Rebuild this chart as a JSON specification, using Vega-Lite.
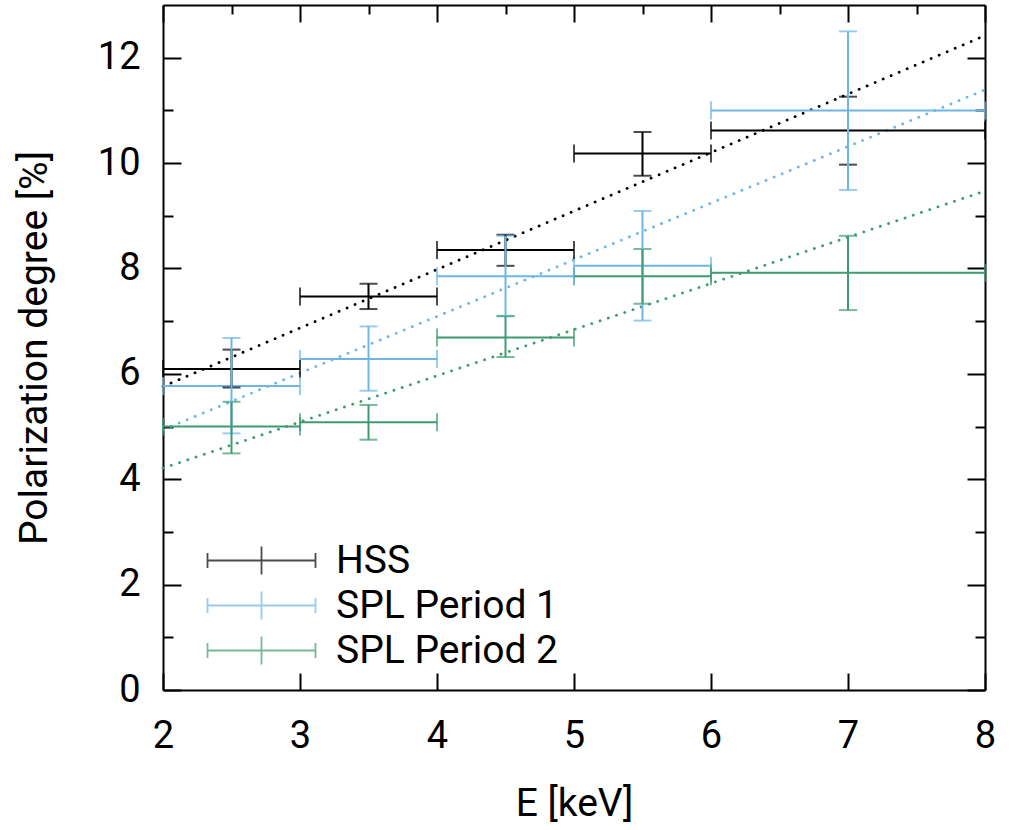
{
  "$schema": "https://vega.github.io/schema/vega-lite/v6.json",
  "width": 822,
  "height": 685,
  "autosize": {"type": "none"},
  "padding": {"left": 163, "top": 5, "right": 25, "bottom": 140},
  "background": "white",
  "config": {
    "view": {"stroke": null},
    "font": "Roboto",
    "axis": {
      "domainColor": "black",
      "domainWidth": 2,
      "tickColor": "black",
      "tickWidth": 2,
      "labelFont": "Roboto",
      "labelFontSize": 38,
      "labelColor": "black",
      "titleFont": "Roboto",
      "titleFontSize": 39,
      "titleFontWeight": "normal",
      "titleColor": "black",
      "grid": false,
      "labelOverlap": false,
      "labelBound": false,
      "labelFlush": false
    },
    "legend": {
      "orient": "none",
      "legendX": 39,
      "legendY": 536,
      "title": null,
      "padding": 0,
      "symbolType": "M-1,0L6.714,0M-1,-0.536L-1,0.536M6.714,-0.536L6.714,0.536M2.857,-1L2.857,1",
      "symbolSize": 784,
      "symbolStrokeWidth": 1.8,
      "labelFont": "Roboto",
      "labelFontSize": 39,
      "labelColor": "black",
      "labelOffset": 95,
      "labelLimit": 500,
      "rowPadding": 5
    }
  },
  "datasets": {
    "pts": [
      {"series": "HSS", "x": 2.5, "xlo": 2, "xhi": 3, "y": 6.09, "ylo": 5.74, "yhi": 6.46},
      {"series": "HSS", "x": 3.5, "xlo": 3, "xhi": 4, "y": 7.47, "ylo": 7.23, "yhi": 7.71},
      {"series": "HSS", "x": 4.5, "xlo": 4, "xhi": 5, "y": 8.35, "ylo": 8.05, "yhi": 8.64},
      {"series": "HSS", "x": 5.5, "xlo": 5, "xhi": 6, "y": 10.18, "ylo": 9.76, "yhi": 10.59},
      {"series": "HSS", "x": 7, "xlo": 6, "xhi": 8, "y": 10.62, "ylo": 9.97, "yhi": 11.26},
      {"series": "SPL Period 1", "x": 2.5, "xlo": 2, "xhi": 3, "y": 5.77, "ylo": 4.87, "yhi": 6.68},
      {"series": "SPL Period 1", "x": 3.5, "xlo": 3, "xhi": 4, "y": 6.28, "ylo": 5.68, "yhi": 6.90},
      {"series": "SPL Period 1", "x": 4.5, "xlo": 4, "xhi": 5, "y": 7.85, "ylo": 7.09, "yhi": 8.62},
      {"series": "SPL Period 1", "x": 5.5, "xlo": 5, "xhi": 6, "y": 8.05, "ylo": 7.01, "yhi": 9.09},
      {"series": "SPL Period 1", "x": 7, "xlo": 6, "xhi": 8, "y": 11.0, "ylo": 9.49, "yhi": 12.5},
      {"series": "SPL Period 2", "x": 2.5, "xlo": 2, "xhi": 3, "y": 5.0, "ylo": 4.49, "yhi": 5.47},
      {"series": "SPL Period 2", "x": 3.5, "xlo": 3, "xhi": 4, "y": 5.08, "ylo": 4.75, "yhi": 5.41},
      {"series": "SPL Period 2", "x": 4.5, "xlo": 4, "xhi": 5, "y": 6.69, "ylo": 6.32, "yhi": 7.10},
      {"series": "SPL Period 2", "x": 5.5, "xlo": 5, "xhi": 6, "y": 7.85, "ylo": 7.33, "yhi": 8.37},
      {"series": "SPL Period 2", "x": 7, "xlo": 6, "xhi": 8, "y": 7.92, "ylo": 7.21, "yhi": 8.62}
    ],
    "fit": [
      {"series": "HSS", "E": 2, "P": 5.76},
      {"series": "HSS", "E": 8, "P": 12.42},
      {"series": "SPL Period 1", "E": 2, "P": 4.94},
      {"series": "SPL Period 1", "E": 8, "P": 11.39},
      {"series": "SPL Period 2", "E": 2, "P": 4.21},
      {"series": "SPL Period 2", "E": 8, "P": 9.47}
    ]
  },
  "layer": [
    {
      "data": {"name": "fit"},
      "mark": {"type": "line", "strokeDash": [0.1, 8.6], "strokeWidth": 2.8, "strokeCap": "round"},
      "encoding": {
        "x": {
          "field": "E", "type": "quantitative",
          "scale": {"domain": [2, 8], "nice": false, "zero": false},
          "axis": {
            "orient": "bottom",
            "title": "E [keV]",
            "values": [2, 2.5, 3, 3.5, 4, 4.5, 5, 5.5, 6, 6.5, 7, 7.5, 8],
            "format": "d",
            "tickSize": {"condition": {"test": "datum.value % 1 === 0", "value": -17}, "value": -9},
            "labelExpr": "datum.value % 1 === 0 ? datum.label : ''",
            "labelPadding": 44,
            "labelDx": 5,
            "titlePadding": 29
          }
        },
        "y": {
          "field": "P", "type": "quantitative",
          "scale": {"domain": [0, 13], "nice": false, "zero": true},
          "axis": {
            "orient": "left",
            "title": "Polarization degree [%]",
            "values": [0, 1, 2, 3, 4, 5, 6, 7, 8, 9, 10, 11, 12],
            "tickSize": {"condition": {"test": "datum.value % 2 === 0", "value": -18}, "value": -10},
            "labelExpr": "datum.value % 2 === 0 ? datum.label : ''",
            "labelPadding": 41,
            "titlePadding": 43
          }
        },
        "color": {
          "field": "series", "type": "nominal",
          "scale": {"domain": ["HSS", "SPL Period 1", "SPL Period 2"], "range": ["#000000", "#6DB6E6", "#3C9B70"]}
        }
      }
    },
    {
      "data": {"name": "pts"},
      "mark": {"type": "errorbar", "ticks": {"size": 18}, "rule": {"strokeWidth": 2}, "thickness": 2},
      "encoding": {
        "x": {
          "field": "xlo", "type": "quantitative",
          "scale": {"domain": [2, 8], "nice": false, "zero": false},
          "axis": {
            "orient": "top",
            "title": null,
            "values": [2, 2.5, 3, 3.5, 4, 4.5, 5, 5.5, 6, 6.5, 7, 7.5, 8],
            "tickSize": {"condition": {"test": "datum.value % 1 === 0", "value": -17}, "value": -9},
            "labels": false
          }
        },
        "x2": {"field": "xhi"},
        "y": {
          "field": "y", "type": "quantitative",
          "scale": {"domain": [0, 13], "nice": false, "zero": true},
          "axis": {
            "orient": "right",
            "title": null,
            "values": [0, 1, 2, 3, 4, 5, 6, 7, 8, 9, 10, 11, 12],
            "tickSize": {"condition": {"test": "datum.value % 2 === 0", "value": -18}, "value": -10},
            "labels": false
          }
        },
        "color": {
          "field": "series", "type": "nominal",
          "scale": {"domain": ["HSS", "SPL Period 1", "SPL Period 2"], "range": ["#000000", "#6DB6E6", "#3C9B70"]}
        }
      }
    },
    {
      "data": {"name": "pts"},
      "mark": {"type": "errorbar", "ticks": {"size": 18}, "rule": {"strokeWidth": 2}, "thickness": 2},
      "encoding": {
        "x": {"field": "x", "type": "quantitative", "scale": {"domain": [2, 8], "nice": false, "zero": false}, "axis": null},
        "y": {"field": "ylo", "type": "quantitative", "scale": {"domain": [0, 13], "nice": false, "zero": true}, "axis": null},
        "y2": {"field": "yhi"},
        "color": {
          "field": "series", "type": "nominal",
          "scale": {"domain": ["HSS", "SPL Period 1", "SPL Period 2"], "range": ["#000000", "#6DB6E6", "#3C9B70"]}
        }
      }
    }
  ],
  "resolve": {"axis": {"x": "independent", "y": "independent"}}
}
